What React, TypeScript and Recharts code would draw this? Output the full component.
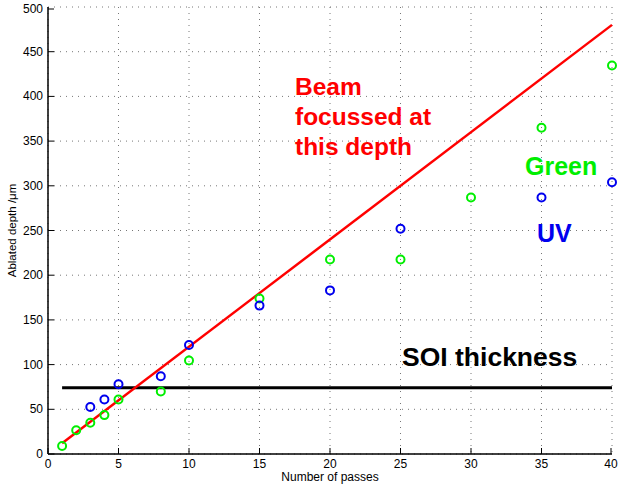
import React from "react";
import {
  CartesianGrid,
  ComposedChart,
  Customized,
  Scatter,
  XAxis,
  YAxis,
} from "recharts";

// Green laser
const greenPasses = [1, 2, 3, 4, 5, 8, 10, 15, 20, 25, 30, 35, 40];
const greenDepth = [9, 26.5, 35, 43.5, 61, 70, 104.5, 174, 217.5, 217.5, 287, 365, 434.5];

// UV laser
const uvPasses = [3, 4, 5, 8, 10, 15, 20, 25, 35, 40];
const uvDepth = [52.5, 61, 78, 87, 122, 166, 183, 252, 287, 304];

// focus line and SOI thickness
const fitPasses = [1, 40];
const fitDepth = [12, 480];
const soiPasses = [1, 40];
const soiDepth = [74, 74];

const xTicks = [0, 5, 10, 15, 20, 25, 30, 35, 40];
const yTicks = [0, 50, 100, 150, 200, 250, 300, 350, 400, 450, 500];

const zip = (xs: number[], ys: number[]) => xs.map((x, i) => ({ x, y: ys[i] }));

const FONT = "'Liberation Sans', Arial, Helvetica, sans-serif";

const ring = (color: string) => (props: any) => (
  <circle cx={props.cx} cy={props.cy} r={4} fill="none" stroke={color} strokeWidth={2} />
);
const noDot = () => <g />;

const BottomTick = ({ x, y, payload }: any) => (
  <g>
    <line x1={x} y1={y} x2={x} y2={y - 6} stroke="#000" />
    <text x={x} y={y + 14} textAnchor="middle" fontSize={12} fontFamily={FONT} fill="#000">
      {payload.value}
    </text>
  </g>
);
const TopTick = ({ x, y }: any) => <line x1={x} y1={y} x2={x} y2={y + 6} stroke="#000" />;
const LeftTick = ({ x, y, payload }: any) => (
  <g>
    <line x1={x} y1={y} x2={x + 6} y2={y} stroke="#000" />
    <text x={x - 5} y={y + 4} textAnchor="end" fontSize={12} fontFamily={FONT} fill="#000">
      {payload.value}
    </text>
  </g>
);
const RightTick = ({ x, y }: any) => <line x1={x} y1={y} x2={x - 6} y2={y} stroke="#000" />;

const Notes = () => (
  <g fontFamily={FONT} fontWeight="bold" fontSize={24.5}>
    <text x={295} y={95} fill="#ff0000">Beam</text>
    <text x={295} y={125} fill="#ff0000">focussed at</text>
    <text x={295} y={155} fill="#ff0000">this depth</text>
    <text x={525} y={175} fill="#00ee00" fontSize={25}>Green</text>
    <text x={537} y={242} fill="#0000ee" fontSize={25}>UV</text>
    <text x={402} y={366} fill="#000" fontSize={26.5}>SOI thickness</text>
  </g>
);

export default function App() {
  const axisLine = { stroke: "#000", strokeWidth: 1.5 };
  return (
    <div style={{ position: "absolute", left: 0, top: 0, background: "#fff" }}>
      <ComposedChart width={619} height={484} margin={{ top: 7, right: 7, left: 8, bottom: 0 }}>
        <CartesianGrid stroke="#777" strokeDasharray="1 5" />
        <XAxis
          xAxisId={0}
          dataKey="x"
          type="number"
          domain={[0, 40]}
          ticks={xTicks}
          height={30}
          tickSize={0}
          tickMargin={0}
          tick={BottomTick}
          axisLine={axisLine}
          label={{
            value: "Number of passes",
            position: "insideBottom",
            offset: 3,
            fontSize: 12,
            fontFamily: FONT,
            fill: "#000",
          }}
        />
        <XAxis
          xAxisId="top"
          orientation="top"
          dataKey="x"
          type="number"
          domain={[0, 40]}
          ticks={xTicks}
          height={0}
          tickSize={0}
          tickMargin={0}
          tick={TopTick}
          axisLine={axisLine}
        />
        <YAxis
          yAxisId={0}
          dataKey="y"
          type="number"
          domain={[0, 500]}
          ticks={yTicks}
          width={40}
          tickSize={0}
          tickMargin={0}
          tick={LeftTick}
          axisLine={axisLine}
          label={{
            value: "Ablated depth /\u03bcm",
            angle: -90,
            position: "insideLeft",
            offset: 4,
            fontSize: 11.5,
            fontFamily: FONT,
            fill: "#000",
            style: { textAnchor: "middle" },
          }}
        />
        <YAxis
          yAxisId="right"
          orientation="right"
          dataKey="y"
          type="number"
          domain={[0, 500]}
          ticks={yTicks}
          width={0}
          tickSize={0}
          tickMargin={0}
          tick={RightTick}
          axisLine={axisLine}
        />
        <Scatter
          data={zip(soiPasses, soiDepth)}
          line={{ stroke: "#000", strokeWidth: 3 }}
          shape={noDot}
          isAnimationActive={false}
        />
        <Scatter
          data={zip(fitPasses, fitDepth)}
          line={{ stroke: "#ff0000", strokeWidth: 2.5 }}
          shape={noDot}
          isAnimationActive={false}
        />
        <Scatter data={zip(greenPasses, greenDepth)} shape={ring("#00ee00")} isAnimationActive={false} />
        <Scatter data={zip(uvPasses, uvDepth)} shape={ring("#0000ee")} isAnimationActive={false} />
        <Customized component={Notes} />
      </ComposedChart>
    </div>
  );
}
